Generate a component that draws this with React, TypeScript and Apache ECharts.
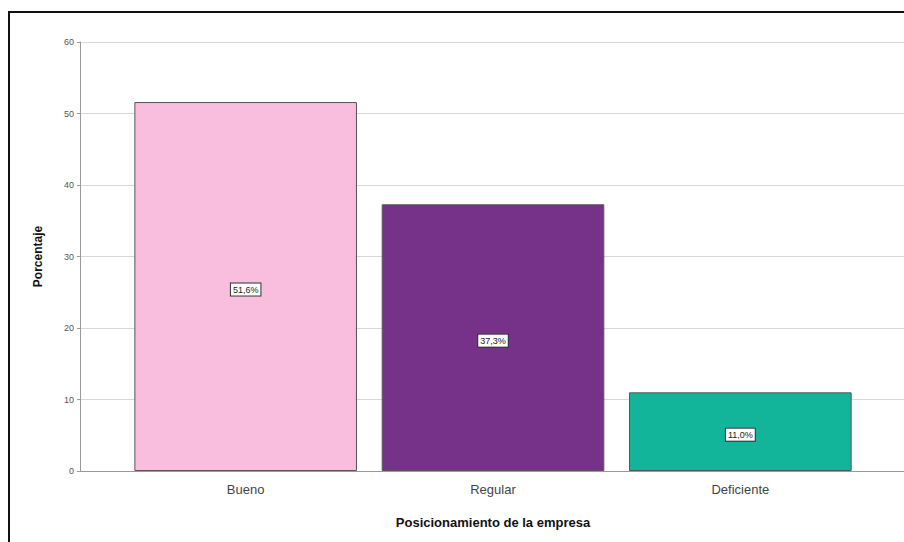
import React, { useEffect, useRef } from "react";
import * as echarts from "echarts";

const categories = ["Bueno", "Regular", "Deficiente"];
const values = [51.6, 37.3, 11.0];
const barColors = ["#F9BEDD", "#763189", "#12B59A"];
const yTicks = [0, 10, 20, 30, 40, 50, 60];

export default function App() {
  const ref = useRef<HTMLDivElement>(null);
  useEffect(() => {
    if (!ref.current) return;
    const chart = echarts.init(ref.current, undefined, { renderer: "svg" });
    const yMin = yTicks[0];
    const yMax = yTicks[yTicks.length - 1];
    chart.setOption({
      animation: false,
      backgroundColor: "#ffffff",
      textStyle: { fontFamily: "Liberation Sans, Arial, sans-serif" },
      graphic: [
        {
          type: "rect",
          shape: { x: 9, y: 12, width: 1000, height: 1000 },
          style: { fill: "none", stroke: "#111", lineWidth: 2 },
          z: 100,
        },
      ],
      grid: [
        { left: 80, right: -10, top: 42, bottom: 71, containLabel: false },
        { left: 122, right: 40, top: 42, bottom: 71, containLabel: false },
      ],
      xAxis: [
        {
          gridIndex: 0,
          type: "value",
          min: 0,
          max: 1,
          axisLine: { show: true, onZero: false, lineStyle: { color: "#9a9a9a", width: 1 } },
          axisTick: { show: false },
          axisLabel: { show: false },
          splitLine: { show: false },
        },
        {
          gridIndex: 1,
          type: "category",
          data: categories,
          boundaryGap: true,
          axisLine: { show: false },
          axisTick: { show: false },
          axisLabel: { fontSize: 13, color: "#444", margin: 12 },
          name: "Posicionamiento de la empresa",
          nameLocation: "middle",
          nameGap: 45,
          nameTextStyle: { fontSize: 13, fontWeight: "bold", color: "#111" },
        },
      ],
      yAxis: [
        {
          gridIndex: 0,
          type: "value",
          min: yMin,
          max: yMax,
          interval: 10,
          axisLine: { show: true, lineStyle: { color: "#9a9a9a", width: 1 } },
          axisTick: { show: true, length: 3, lineStyle: { color: "#9a9a9a" } },
          axisLabel: { fontSize: 9, color: "#555", margin: 6 },
          splitLine: { show: true, lineStyle: { color: "#d8d8d8", width: 1 } },
          name: "Porcentaje",
          nameLocation: "middle",
          nameGap: 36,
          nameRotate: 90,
          nameTextStyle: { fontSize: 12, fontWeight: "bold", color: "#111" },
        },
        {
          gridIndex: 1,
          type: "value",
          min: yMin,
          max: yMax,
          interval: 10,
          show: false,
          splitLine: { show: false },
        },
      ],
      series: [
        {
          type: "bar",
          xAxisIndex: 1,
          yAxisIndex: 1,
          barWidth: "90%",
          data: values.map((v, i) => ({
            value: v,
            itemStyle: { color: barColors[i], borderColor: "#555", borderWidth: 1 },
          })),
          label: {
            show: true,
            position: "inside",
            offset: [0, 3],
            formatter: (p: any) => p.value.toFixed(1).replace(".", ",") + "%",
            fontSize: 9,
            color: "#222",
            backgroundColor: "#ffffff",
            borderColor: "#333",
            borderWidth: 1,
            padding: [2, 2, 1, 2],
          },
        },
      ],
    });
    return () => chart.dispose();
  }, []);
  return (
    <div
      ref={ref}
      style={{ position: "fixed", left: 0, top: 0, width: 904, height: 542 }}
    />
  );
}
